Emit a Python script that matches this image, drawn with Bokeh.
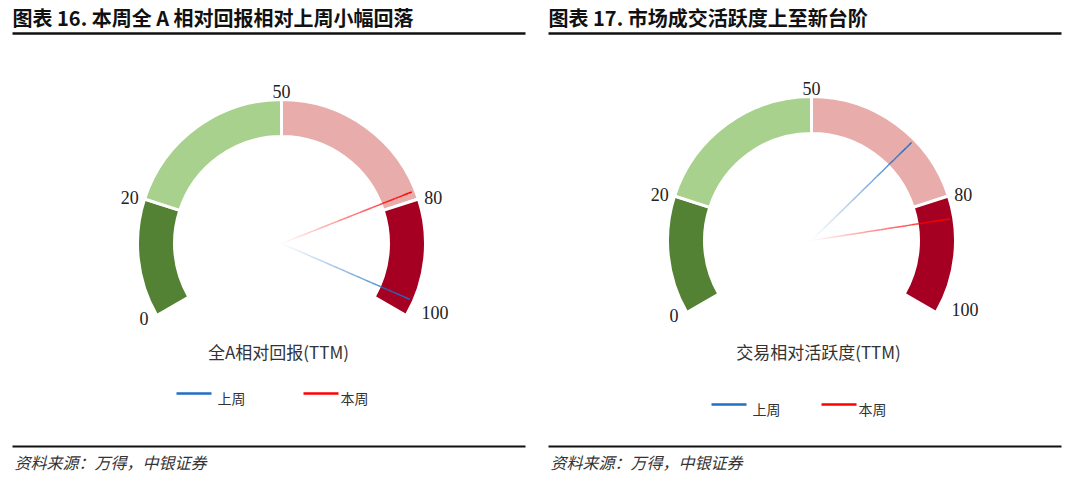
import numpy as np
from bokeh.plotting import figure
from bokeh.models import Range1d
from bokeh.core.properties import value
from bokeh.embed import file_html
from bokeh.resources import INLINE

# ---------------- data ----------------
titles = ["图表 16. 本周全 A 相对回报相对上周小幅回落", "图表 17. 市场成交活跃度上至新台阶"]
gauge_names = ["全A相对回报(TTM)", "交易相对活跃度(TTM)"]
band_edges = [0, 20, 50, 80, 100]
band_colors = ["#548235", "#A9D18E", "#E8ADAB", "#A50021"]
tick_values = [0, 20, 50, 80, 100]
tick_labels = ["0", "20", "50", "80", "100"]
series_names = ["上周", "本周"]
series_colors = ["#1F6FC5", "#FF0000"]
last_week = [97.3, 69.0]
this_week = [78.5, 83.8]
source_text = "资料来源：万得，中银证券"

# ---------------- layout ----------------
W, H = 1080, 481
centers = [(281, 243), (811, 240)]
panel_x = [12, 548]
panel_w = 513
R_IN, R_OUT = 107, 144
NEEDLE_LEN = 140
START_DEG, SPAN_DEG = 210.0, 240.0

def ang(v):
    return np.radians(START_DEG - SPAN_DEG * np.asarray(v, dtype=float) / 100.0)

def Y(py):
    return H - py

p = figure(width=W, height=H, x_range=Range1d(0, W), y_range=Range1d(0, H),
           output_backend="svg", toolbar_location=None,
           x_axis_location=None, y_axis_location=None, min_border=0)
p.grid.visible = False
p.outline_line_color = None
p.background_fill_color = "white"

CJK = "Noto Sans CJK SC"
SERIF = "Liberation Serif"

for i in range(2):
    cx, cy_px = centers[i]
    cy = Y(cy_px)
    px0 = panel_x[i]

    # title + rule
    p.text(x=[px0], y=[Y(17)], text=[titles[i]], text_font=value(CJK),
           text_font_style="bold", text_font_size="20px", text_color="#111111",
           text_baseline="middle", text_align="left")
    p.line(x=[px0, px0 + panel_w], y=[Y(33), Y(33)], line_color="#111111", line_width=2.5)

    # footer rule + source
    p.line(x=[px0, px0 + panel_w], y=[Y(446), Y(446)], line_color="#111111", line_width=2)
    p.text(x=[px0 + 2], y=[Y(461)], text=[source_text], text_font=value(CJK),
           text_font_style="italic", text_font_size="16px", text_color="#333333",
           text_baseline="middle", text_align="left")

    # gauge bands
    lo = np.array(band_edges[:-1]); hi = np.array(band_edges[1:])
    p.annular_wedge(x=[cx] * 4, y=[cy] * 4, inner_radius=R_IN, outer_radius=R_OUT,
                    start_angle=ang(hi), end_angle=ang(lo), direction="anticlock",
                    fill_color=band_colors, line_color="white", line_width=3)

    # tick labels
    for v, lab in zip(tick_values, tick_labels):
        a = float(ang(v))
        deg = np.degrees(a)
        if 80 <= deg <= 100:
            r = 146; align = "center"; base = "bottom"
        elif deg > 100:
            r = 150; align = "right"; base = "middle"
        else:
            r = 150; align = "left"; base = "middle"
        tx = cx + r * np.cos(a)
        ty = cy + r * np.sin(a)
        if v == 100:
            tx += 10
            ty += 6
        if v == 0:
            tx -= 3
        p.text(x=[tx], y=[ty], text=[lab], text_font=value(SERIF),
               text_font_size="18px", text_color="#222222",
               text_align=align, text_baseline=base)

    # needles with fading gradient
    for vals, col in ((last_week, series_colors[0]), (this_week, series_colors[1])):
        a = float(ang(vals[i]))
        n = 40
        t = np.linspace(0, 1, n + 1)
        xs0 = cx + NEEDLE_LEN * t[:-1] * np.cos(a)
        ys0 = cy + NEEDLE_LEN * t[:-1] * np.sin(a)
        xs1 = cx + NEEDLE_LEN * t[1:] * np.cos(a)
        ys1 = cy + NEEDLE_LEN * t[1:] * np.sin(a)
        alphas = list(np.clip(t[1:] ** 1.1, 0, 1))
        p.segment(x0=xs0, y0=ys0, x1=xs1, y1=ys1, line_color=col,
                  line_alpha=alphas, line_width=1.5)

    # gauge name
    p.text(x=[cx - 3 + (10 if i == 1 else 0)], y=[Y(351)], text=[gauge_names[i]],
           text_font=value(CJK), text_font_size="17px", text_color="#333333",
           text_align="center", text_baseline="middle")

    # legend
    leg_y = Y(393 if i == 0 else 404)
    leg_x = [176, 303] if i == 0 else [711, 821]
    for k in range(2):
        lx = leg_x[k]
        p.line(x=[lx, lx + 35], y=[leg_y, leg_y], line_color=series_colors[k], line_width=2.5)
        p.text(x=[lx + (41 if k == 0 else 37)], y=[leg_y - 4], text=[series_names[k]],
               text_font=value(CJK), text_font_size="14px", text_color="#333333",
               text_align="left", text_baseline="middle")

open("out.html", "w").write(file_html(p, INLINE))
